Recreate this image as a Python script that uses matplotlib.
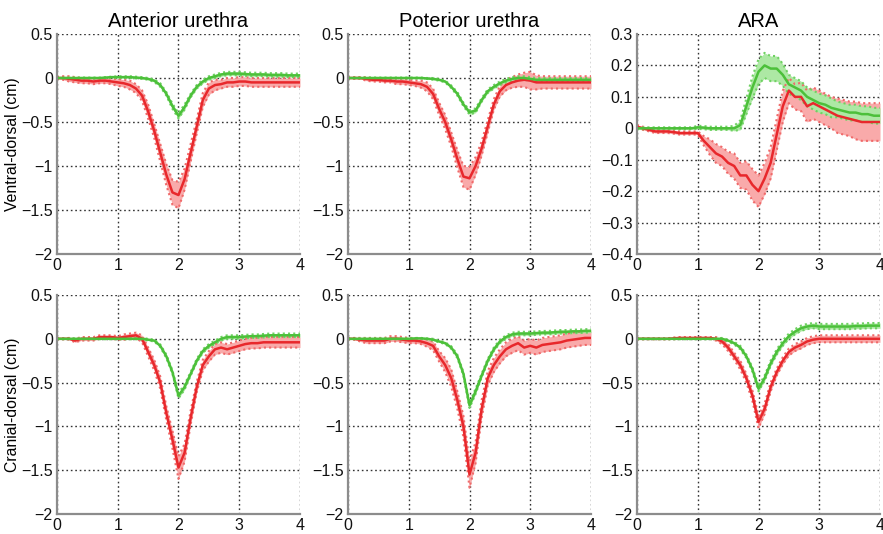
import numpy as np
import matplotlib
matplotlib.use("Agg")
import matplotlib.pyplot as plt
from matplotlib.ticker import FuncFormatter

plt.rcParams['font.family'] = ['Liberation Sans', 'DejaVu Sans']

# ---------------- data ----------------
time_s = np.linspace(0, 4, 41)

titles = ["Anterior urethra", "Poterior urethra", "ARA"]
row_labels = ["Ventral-dorsal (cm)", "Cranial-dorsal (cm)"]
xticks = [0, 1, 2, 3, 4]
yticks_main = [-2, -1.5, -1, -0.5, 0, 0.5]
yticks_ara = [-0.4, -0.3, -0.2, -0.1, 0, 0.1, 0.2, 0.3]

# Row 1: ventral-dorsal
ant_vd_red = [0, 0, -0.01, -0.02, -0.03, -0.03, -0.04, -0.03, -0.03, -0.04,
              -0.05, -0.06, -0.08, -0.12, -0.2, -0.38, -0.6, -0.85, -1.1, -1.3,
              -1.33, -1.15, -0.85, -0.55, -0.25, -0.12, -0.08, -0.07, -0.05, -0.05,
              -0.04, -0.04, -0.05, -0.05, -0.05, -0.05, -0.05, -0.05, -0.05, -0.05, -0.05]
ant_vd_red_sd = [0.01, 0.02, 0.03, 0.03, 0.03, 0.03, 0.03, 0.03, 0.03, 0.03,
                 0.04, 0.04, 0.05, 0.05, 0.06, 0.08, 0.08, 0.1, 0.12, 0.14,
                 0.15, 0.12, 0.1, 0.08, 0.08, 0.07, 0.06, 0.05, 0.05, 0.05,
                 0.05, 0.05, 0.05, 0.05, 0.05, 0.05, 0.05, 0.05, 0.05, 0.05, 0.05]
ant_vd_green = [0, 0, 0, 0, 0, 0, 0, 0, 0.005, 0.01,
                0.01, 0.01, 0.01, 0.005, 0, -0.01, -0.03, -0.08, -0.18, -0.32,
                -0.43, -0.33, -0.2, -0.1, -0.04, 0, 0.02, 0.04, 0.05, 0.05,
                0.05, 0.045, 0.04, 0.04, 0.04, 0.035, 0.035, 0.035, 0.03, 0.03, 0.03]
ant_vd_green_sd = [0.005, 0.005, 0.005, 0.005, 0.005, 0.005, 0.005, 0.005, 0.005, 0.005,
                   0.01, 0.01, 0.01, 0.01, 0.01, 0.01, 0.015, 0.02, 0.02, 0.03,
                   0.03, 0.03, 0.02, 0.02, 0.02, 0.02, 0.02, 0.02, 0.02, 0.02,
                   0.02, 0.02, 0.02, 0.02, 0.02, 0.02, 0.02, 0.02, 0.02, 0.02, 0.02]

post_vd_red = [0, 0, 0, -0.01, -0.02, -0.02, -0.03, -0.03, -0.04, -0.04,
               -0.05, -0.06, -0.07, -0.1, -0.18, -0.35, -0.5, -0.7, -0.92, -1.12,
               -1.14, -1.0, -0.8, -0.55, -0.3, -0.15, -0.08, -0.05, -0.03, -0.02,
               -0.03, -0.05, -0.05, -0.05, -0.05, -0.05, -0.05, -0.05, -0.05, -0.05, -0.05]
post_vd_red_sd = [0.005, 0.01, 0.01, 0.02, 0.02, 0.02, 0.02, 0.02, 0.03, 0.03,
                  0.03, 0.03, 0.04, 0.05, 0.06, 0.07, 0.08, 0.08, 0.1, 0.12,
                  0.13, 0.1, 0.08, 0.07, 0.06, 0.06, 0.06, 0.06, 0.07, 0.08,
                  0.1, 0.08, 0.07, 0.07, 0.07, 0.07, 0.07, 0.07, 0.07, 0.07, 0.07]
post_vd_green = [0, 0, 0, 0, 0, 0, 0, 0, 0, 0,
                 0, 0, 0, -0.005, -0.01, -0.02, -0.04, -0.1, -0.18, -0.3,
                 -0.39, -0.37, -0.25, -0.15, -0.1, -0.06, -0.03, -0.01, 0, 0,
                 -0.01, -0.02, -0.02, -0.02, -0.02, -0.02, -0.02, -0.02, -0.02, -0.02, -0.02]
post_vd_green_sd = [0.005, 0.005, 0.005, 0.005, 0.005, 0.005, 0.005, 0.005, 0.005, 0.005,
                    0.005, 0.005, 0.005, 0.005, 0.01, 0.01, 0.01, 0.015, 0.02, 0.02,
                    0.025, 0.025, 0.02, 0.02, 0.02, 0.02, 0.02, 0.02, 0.02, 0.02,
                    0.02, 0.02, 0.02, 0.02, 0.02, 0.02, 0.02, 0.02, 0.02, 0.02, 0.02]

ara_vd_red = [0.005, 0, -0.005, -0.01, -0.01, -0.01, -0.012, -0.015, -0.015, -0.015,
              -0.015, -0.04, -0.06, -0.08, -0.09, -0.11, -0.12, -0.15, -0.15, -0.18,
              -0.2, -0.16, -0.11, -0.02, 0.07, 0.12, 0.1, 0.1, 0.07, 0.08,
              0.07, 0.06, 0.05, 0.04, 0.035, 0.03, 0.025, 0.02, 0.02, 0.02, 0.02]
ara_vd_red_sd = [0.005, 0.005, 0.005, 0.005, 0.005, 0.005, 0.005, 0.005, 0.005, 0.005,
                 0.005, 0.015, 0.025, 0.03, 0.03, 0.035, 0.04, 0.04, 0.045, 0.05,
                 0.05, 0.05, 0.05, 0.05, 0.05, 0.04, 0.04, 0.045, 0.05, 0.05,
                 0.05, 0.05, 0.05, 0.055, 0.055, 0.055, 0.06, 0.06, 0.06, 0.06, 0.06]
ara_vd_green = [0, 0, 0, 0, 0, 0, 0, 0, 0, 0,
                0.003, 0.002, 0, 0, 0, 0, 0, 0.01, 0.07, 0.13,
                0.18, 0.2, 0.19, 0.19, 0.17, 0.14, 0.13, 0.12, 0.1, 0.09,
                0.08, 0.075, 0.065, 0.06, 0.055, 0.05, 0.05, 0.045, 0.045, 0.04, 0.04]
ara_vd_green_sd = [0.003, 0.003, 0.003, 0.003, 0.003, 0.003, 0.003, 0.003, 0.003, 0.003,
                   0.005, 0.005, 0.005, 0.005, 0.005, 0.005, 0.008, 0.015, 0.025, 0.035,
                   0.04, 0.04, 0.04, 0.04, 0.035, 0.03, 0.03, 0.03, 0.03, 0.03,
                   0.03, 0.03, 0.03, 0.025, 0.025, 0.025, 0.025, 0.025, 0.025, 0.025, 0.025]

# Row 2: cranial-dorsal
ant_cd_red = [0, 0, 0, -0.02, 0, 0, 0, 0.02, 0.02, 0.02,
              0.01, 0.02, 0.03, 0.04, 0.0, -0.15, -0.3, -0.5, -0.85, -1.15,
              -1.47, -1.3, -0.9, -0.55, -0.3, -0.2, -0.12, -0.1, -0.12, -0.1,
              -0.08, -0.06, -0.05, -0.05, -0.04, -0.04, -0.04, -0.04, -0.04, -0.04, -0.04]
ant_cd_red_sd = [0.005, 0.005, 0.01, 0.02, 0.02, 0.02, 0.02, 0.02, 0.02, 0.02,
                 0.02, 0.03, 0.03, 0.03, 0.04, 0.05, 0.06, 0.07, 0.08, 0.1,
                 0.13, 0.1, 0.08, 0.06, 0.06, 0.06, 0.06, 0.06, 0.06, 0.06,
                 0.06, 0.06, 0.06, 0.06, 0.06, 0.06, 0.06, 0.06, 0.06, 0.06, 0.06]
ant_cd_green = [0, 0, 0, 0, 0, 0, 0, 0, 0, 0,
                0, 0, 0, 0, 0, -0.01, -0.02, -0.08, -0.2, -0.38,
                -0.65, -0.55, -0.4, -0.25, -0.14, -0.08, -0.04, 0, 0.02, 0.02,
                0.02, 0.025, 0.03, 0.03, 0.035, 0.04, 0.04, 0.04, 0.04, 0.04, 0.04]
ant_cd_green_sd = [0.005, 0.005, 0.005, 0.005, 0.005, 0.005, 0.005, 0.005, 0.005, 0.005,
                   0.005, 0.005, 0.005, 0.005, 0.01, 0.01, 0.01, 0.015, 0.02, 0.02,
                   0.03, 0.03, 0.02, 0.02, 0.02, 0.02, 0.02, 0.02, 0.02, 0.02,
                   0.02, 0.02, 0.02, 0.02, 0.02, 0.02, 0.02, 0.02, 0.02, 0.02, 0.02]

post_cd_red = [0, 0, -0.01, -0.02, -0.02, -0.02, -0.02, 0, 0, -0.01,
               -0.02, -0.02, -0.03, -0.05, -0.08, -0.2, -0.3, -0.45, -0.7, -1.0,
               -1.55, -1.3, -0.8, -0.45, -0.3, -0.2, -0.12, -0.08, -0.05, -0.1,
               -0.08, -0.1, -0.07, -0.06, -0.05, -0.04, -0.02, -0.01, 0, 0.01, 0.01]
post_cd_red_sd = [0.005, 0.01, 0.02, 0.03, 0.03, 0.03, 0.03, 0.03, 0.03, 0.03,
                  0.03, 0.03, 0.03, 0.04, 0.05, 0.06, 0.08, 0.1, 0.1, 0.12,
                  0.15, 0.12, 0.1, 0.08, 0.08, 0.08, 0.08, 0.08, 0.08, 0.08,
                  0.08, 0.08, 0.08, 0.08, 0.08, 0.08, 0.08, 0.08, 0.08, 0.08, 0.08]
post_cd_green = [0, 0, 0, 0, 0, 0, 0, 0, 0, 0,
                 0, 0.005, 0.005, 0, -0.01, -0.03, -0.05, -0.1, -0.2, -0.4,
                 -0.76, -0.6, -0.42, -0.25, -0.12, -0.03, 0.02, 0.05, 0.06, 0.06,
                 0.06, 0.065, 0.07, 0.07, 0.075, 0.08, 0.08, 0.085, 0.085, 0.09, 0.09]
post_cd_green_sd = [0.005, 0.005, 0.005, 0.005, 0.005, 0.005, 0.005, 0.005, 0.005, 0.005,
                    0.005, 0.005, 0.005, 0.005, 0.01, 0.01, 0.01, 0.015, 0.02, 0.02,
                    0.03, 0.03, 0.02, 0.02, 0.02, 0.02, 0.02, 0.02, 0.02, 0.02,
                    0.02, 0.02, 0.02, 0.02, 0.02, 0.02, 0.02, 0.02, 0.02, 0.02, 0.02]

ara_cd_red = [0, 0, 0, 0, 0, 0, 0.005, 0.01, 0.01, 0.01,
              0.01, 0.01, 0.01, 0, -0.03, -0.1, -0.2, -0.3, -0.45, -0.65,
              -0.95, -0.8, -0.55, -0.38, -0.25, -0.15, -0.1, -0.07, -0.03, -0.01,
              0, 0, 0, 0, 0, 0, 0, 0, 0, 0, 0]
ara_cd_red_sd = [0.005, 0.005, 0.005, 0.005, 0.005, 0.005, 0.01, 0.01, 0.01, 0.01,
                 0.01, 0.01, 0.01, 0.02, 0.03, 0.04, 0.04, 0.05, 0.05, 0.06,
                 0.07, 0.06, 0.05, 0.04, 0.04, 0.04, 0.04, 0.04, 0.04, 0.04,
                 0.04, 0.04, 0.04, 0.04, 0.04, 0.04, 0.04, 0.04, 0.04, 0.04, 0.04]
ara_cd_green = [0, 0, 0, 0, 0, 0, 0, 0, 0, 0,
                0, 0, 0, 0, 0, -0.02, -0.05, -0.1, -0.2, -0.35,
                -0.57, -0.45, -0.28, -0.15, -0.05, 0.03, 0.08, 0.12, 0.14, 0.15,
                0.14, 0.14, 0.14, 0.14, 0.14, 0.14, 0.145, 0.145, 0.15, 0.15, 0.15]
ara_cd_green_sd = [0.005, 0.005, 0.005, 0.005, 0.005, 0.005, 0.005, 0.005, 0.005, 0.005,
                   0.005, 0.005, 0.005, 0.005, 0.01, 0.01, 0.015, 0.02, 0.02, 0.025,
                   0.03, 0.03, 0.03, 0.03, 0.03, 0.03, 0.03, 0.03, 0.03, 0.03,
                   0.03, 0.03, 0.03, 0.03, 0.03, 0.03, 0.03, 0.03, 0.03, 0.03, 0.03]

panels = [
    [(ant_vd_red, ant_vd_red_sd, ant_vd_green, ant_vd_green_sd),
     (post_vd_red, post_vd_red_sd, post_vd_green, post_vd_green_sd),
     (ara_vd_red, ara_vd_red_sd, ara_vd_green, ara_vd_green_sd)],
    [(ant_cd_red, ant_cd_red_sd, ant_cd_green, ant_cd_green_sd),
     (post_cd_red, post_cd_red_sd, post_cd_green, post_cd_green_sd),
     (ara_cd_red, ara_cd_red_sd, ara_cd_green, ara_cd_green_sd)],
]

# ---------------- style ----------------
RED, RED_FILL, RED_EDGE = '#e8282c', '#f9aaaa', '#f06a6a'
GREEN, GREEN_FILL, GREEN_EDGE = '#4cc03a', '#ade8a4', '#6fd262'

fig = plt.figure(figsize=(8.83, 5.34), dpi=100)
W, H = 883, 534
col_x = [57, 348, 637]
ax_w = 243
row_y = [(34, 254), (295, 514)]


def fmt(v, pos):
    s = ('%g' % round(v, 2))
    return s.replace('-', '\u2212')


def draw_series(ax, mean, sd, line_c, fill_c, edge_c):
    m = np.asarray(mean, float)
    s = np.asarray(sd, float)
    ax.fill_between(time_s, m - s, m + s, color=fill_c, lw=0, zorder=2)
    ax.plot(time_s, m + s, color=edge_c, lw=1.5, ls=(0, (1, 1.5)), zorder=3)
    ax.plot(time_s, m - s, color=edge_c, lw=1.5, ls=(0, (1, 1.5)), zorder=3)
    ax.plot(time_s, m, color=line_c, lw=1.8, zorder=4)


for r in range(2):
    for c in range(3):
        x0 = col_x[c]
        yt, yb = row_y[r]
        ax = fig.add_axes([x0 / W, 1 - yb / H, ax_w / W, (yb - yt) / H])
        red, red_sd, green, green_sd = panels[r][c]
        draw_series(ax, red, red_sd, RED, RED_FILL, RED_EDGE)
        draw_series(ax, green, green_sd, GREEN, GREEN_FILL, GREEN_EDGE)
        ax.set_xlim(0, 4)
        if r == 0 and c == 2:
            ax.set_ylim(-0.4, 0.3)
            ax.set_yticks(yticks_ara)
        else:
            ax.set_ylim(-2, 0.5)
            ax.set_yticks(yticks_main)
        ax.set_xticks(xticks)
        ax.yaxis.set_major_formatter(FuncFormatter(fmt))
        ax.xaxis.set_major_formatter(FuncFormatter(fmt))
        ax.grid(True, color='#333333', ls=(0, (1.2, 2)), lw=1.0, zorder=1)
        ax.set_axisbelow(True)
        for sp in ['top', 'right']:
            ax.spines[sp].set_visible(False)
        for sp in ['left', 'bottom']:
            ax.spines[sp].set_color('#8c8c8c')
            ax.spines[sp].set_linewidth(1.6)
            ax.spines[sp].set_zorder(5)
        ax.tick_params(length=0, labelsize=11.5, pad=3, colors='#111111')
        if r == 0:
            ax.set_title(titles[c], fontsize=14.5, pad=5)
        if c == 0:
            ax.set_ylabel(row_labels[r], fontsize=11.3, labelpad=1)

fig.savefig('out.png', dpi=100)
